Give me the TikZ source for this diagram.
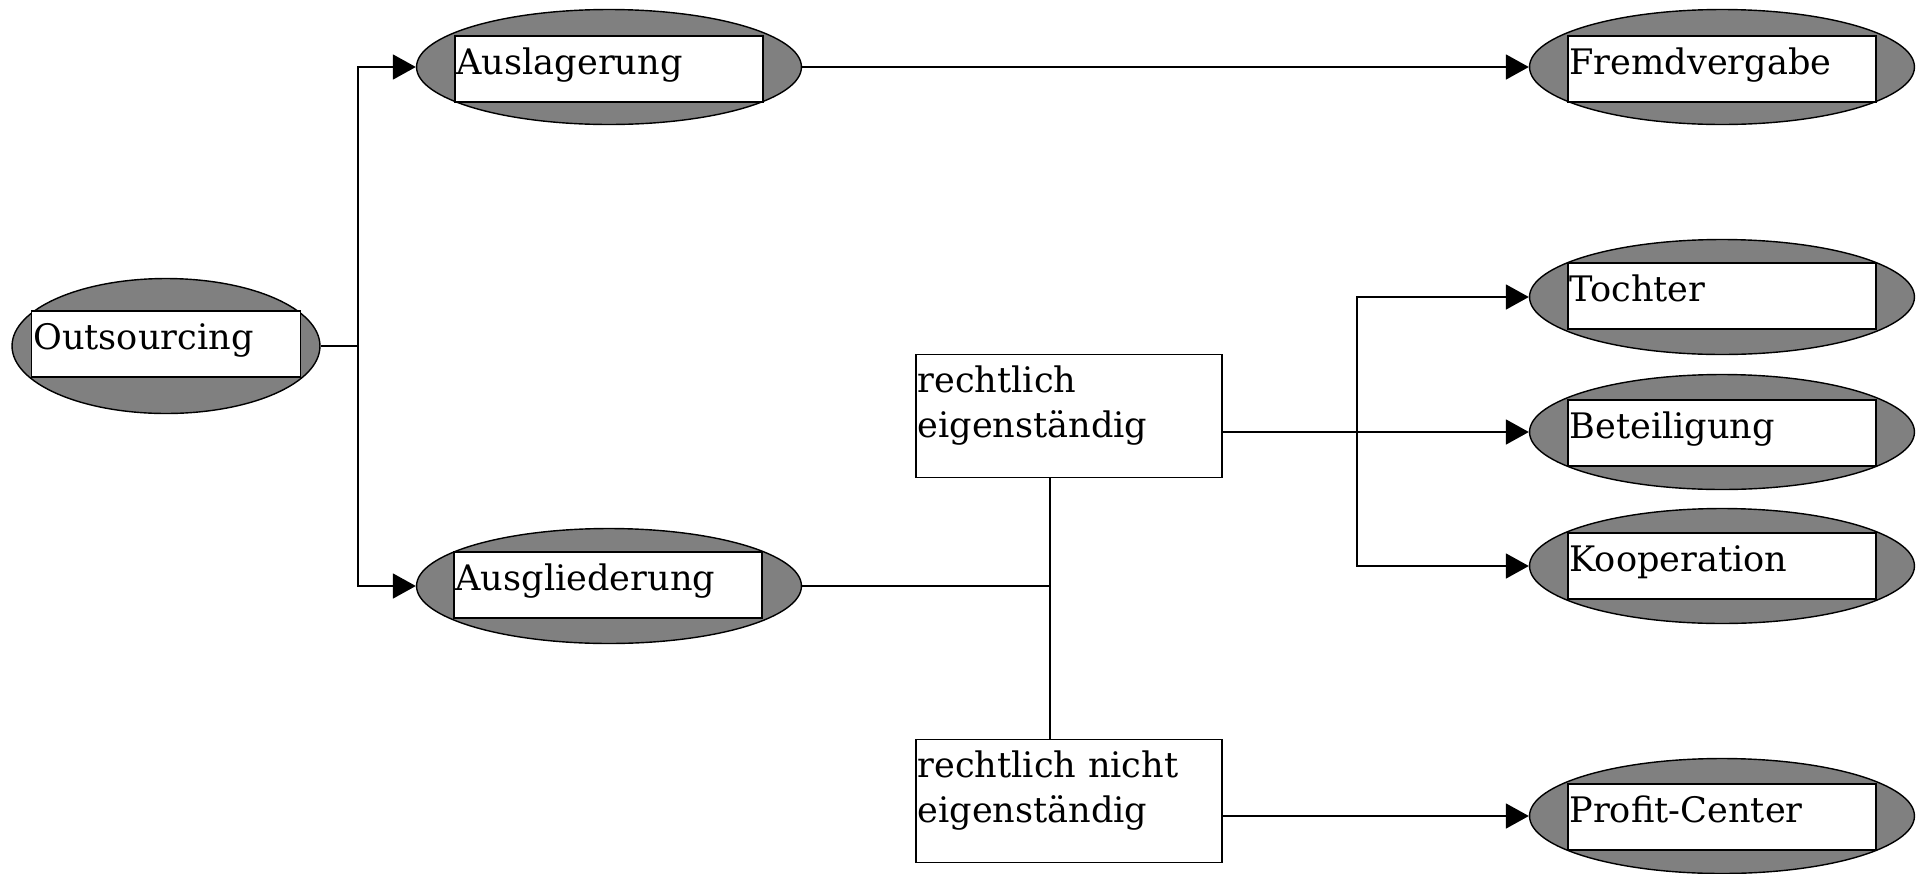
\documentclass[tikz,border=0pt]{standalone}
\usepackage{fontspec}
\setmainfont{DejaVu Serif}
\usetikzlibrary{arrows.meta,shapes.geometric}

\begin{document}
\begin{tikzpicture}[x=0.02cm, y=-0.02cm, line width=1pt,
  >={Triangle[length=0.46cm, width=0.5cm]},
  oval/.style={ellipse, draw, line width=0.8pt, fill=gray, inner sep=0pt,
    minimum width=7.7cm, minimum height=2.3cm},
  tag/.style={rectangle, draw, fill=white, inner xsep=1pt, inner ysep=0pt,
    text width=6.1cm, align=left, text height=0.76cm, text depth=0.56cm,
    font=\fontsize{20}{25.6}\selectfont},
  legal/.style={tag, text width=6.06cm, text depth=1.7cm}]

  \useasboundingbox (0,0) rectangle (1925,873);

  % Define coordinates for nodes
  \node[oval, minimum width=6.16cm, minimum height=2.7cm] (Out) at (166,346) {};
  \node[tag, text width=5.31cm] (OutT) at (166,344) {Outsourcing};
  \node[oval] (Ausl) at (609,67) {};
  \node[tag] (AuslT) at (609,69) {Auslagerung};
  \node[oval] (Ausg) at (609,586) {};
  \node[tag] (AusgT) at (608,585) {Ausgliederung};
  \node[oval] (Fremd) at (1722,67) {};
  \node[tag] (FremdT) at (1722,69) {Fremdvergabe};
  \node[oval] (Toch) at (1722,297) {};
  \node[tag] (TochT) at (1722,296) {Tochter};
  \node[oval] (Beteil) at (1722,432) {};
  \node[tag] (BeteilT) at (1722,433) {Beteiligung};
  \node[oval] (Koop) at (1722,566) {};
  \node[tag] (KoopT) at (1722,566) {Kooperation};
  \node[oval] (Profit) at (1722,816) {};
  \node[tag] (ProfitT) at (1722,817) {Profit-Center};
  \node[legal] (RE) at (1069,416) {rechtlich\\eigenständig};
  \node[legal] (RN) at (1069,801) {rechtlich nicht\\eigenständig};
  \coordinate (F1) at (358,346);
  \coordinate (J) at (1050,586);
  \coordinate (F2) at (1357,432);

  % Draw arrows between nodes
  \draw (Out) -- (F1);
  \draw[->] (F1) |- (Ausl.west);
  \draw[->] (F1) |- (Ausg.west);
  \draw[->] (Ausl) -- (Fremd);
  \draw (Ausg) -- (J);
  \draw (RE.south -| J) -- (RN.north -| J);
  \draw[->] (F2 -| RE.east) -- (Beteil.west);
  \draw[->] (F2) |- (Toch.west);
  \draw[->] (F2) |- (Koop.west);
  \draw[->] (Profit -| RN.east) -- (Profit.west);
\end{tikzpicture}
\end{document}
